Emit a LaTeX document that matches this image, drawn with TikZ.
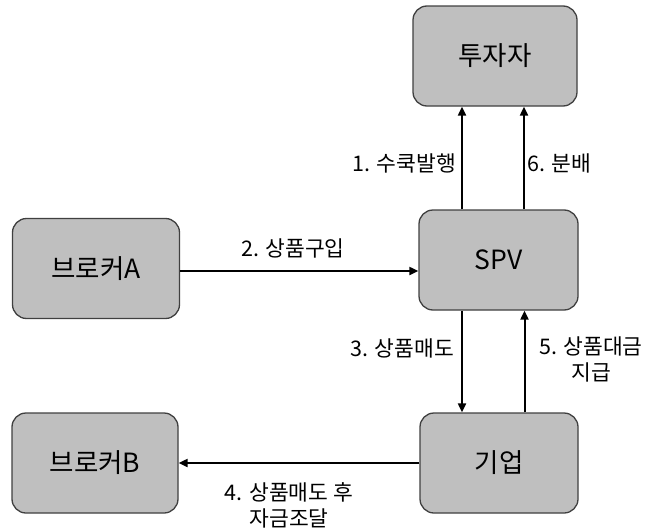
\documentclass[tikz,border=0pt]{standalone}
\usepackage{fontspec}
\setmainfont{Noto Sans CJK KR}
\usetikzlibrary{arrows.meta}
\begin{document}
\begin{tikzpicture}[x=1pt,y=-1pt,
  box/.style={draw=black!75, line width=1.3pt, fill=black!25, rounded corners=14pt,
    minimum width=#1, minimum height=100pt, inner sep=0pt, font=\fontsize{26.5}{30}\selectfont},
  box/.default=160pt,
  flow/.style={line width=2pt, -{Triangle[length=9pt,width=8pt]}},
  lbl/.style={inner sep=0pt, font=\fontsize{21.5}{26}\selectfont, align=center}]
\useasboundingbox (0,0) rectangle (651,530);
% boxes
\node[box=164pt] (inv) at (495,56) {투자자};
\node[box=159pt] (spv) at (498.5,260) {SPV};
\node[box=167pt] (brA) at (96,268.5) {브로커A};
\node[box=166pt] (brB) at (95,463) {브로커B};
\node[box=158pt] (corp) at (499,463) {기업};
% connectors
\draw[flow] ([xshift=-36.5pt]spv.north) -- ([xshift=-36.5pt]spv.north |- inv.south);
\draw[flow] ([xshift=25.5pt]spv.north) -- ([xshift=25.5pt]spv.north |- inv.south);
\draw[flow] (brA.east |- 0,271) -- (spv.west |- 0,271);
\draw[flow] ([xshift=-36.5pt]spv.south) -- ([xshift=-36.5pt]spv.south |- corp.north);
\draw[flow] ([xshift=25.5pt]corp.north) -- ([xshift=25.5pt]corp.north |- spv.south);
\draw[flow] (corp.west) -- (brB.east);
% labels
\node[lbl, anchor=east] (l1) at (456,163) {1. 수쿡발행};
\node[lbl, anchor=west] (l6) at (527,163) {6. 분배};
\node[lbl] (l2) at (293,248) {2. 상품구입};
\node[lbl, anchor=east] (l3) at (454,348) {3. 상품매도};
\node[lbl] (l5) at (591,359) {5. 상품대금\\지급};
\node[lbl] (l4) at (289,505) {4. 상품매도 후\\자금조달};
\end{tikzpicture}
\end{document}
